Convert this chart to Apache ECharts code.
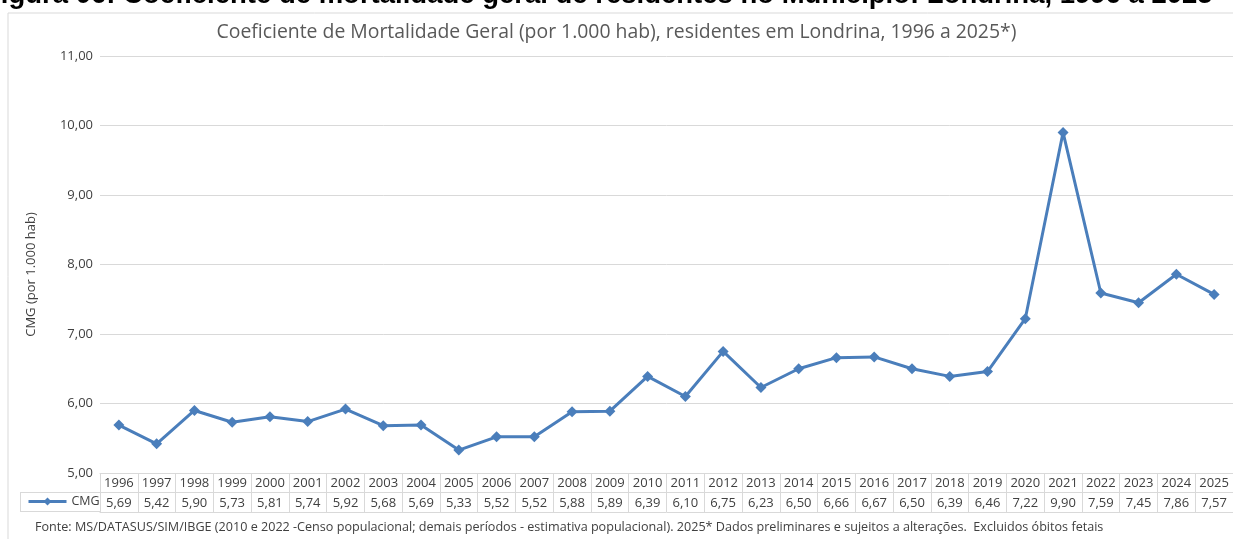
<!DOCTYPE html>
<html>
<head>
<meta charset="utf-8">
<script src="https://cdn.jsdelivr.net/npm/echarts@6/dist/echarts.min.js"></script>
<style>html,body{margin:0;padding:0;background:#fff;}#c{width:1233px;height:539px;}</style>
</head>
<body>
<div id="c"></div>
<script>
const categories = ['1996','1997','1998','1999','2000','2001','2002','2003','2004','2005','2006','2007','2008','2009','2010','2011','2012','2013','2014','2015','2016','2017','2018','2019','2020','2021','2022','2023','2024','2025'];
const cmgValues = [5.69,5.42,5.90,5.73,5.81,5.74,5.92,5.68,5.69,5.33,5.52,5.52,5.88,5.89,6.39,6.10,6.75,6.23,6.50,6.66,6.67,6.50,6.39,6.46,7.22,9.90,7.59,7.45,7.86,7.57];
const yTicks = {min: 5, max: 11, interval: 1};
const figTitle = 'Figura 06: Coeficiente de mortalidade geral de residentes no Município: Londrina, 1996 a 2025*';
const chartTitle = 'Coeficiente de Mortalidade Geral (por 1.000 hab), residentes em Londrina, 1996 a 2025*)';
const yName = 'CMG (por 1.000 hab)';
const footer = 'Fonte: MS/DATASUS/SIM/IBGE (2010 e 2022 -Censo populacional; demais períodos - estimativa populacional). 2025* Dados preliminares e sujeitos a alterações.  Excluidos óbitos fetais';

const fmt = v => Number(v).toFixed(2).replace('.', ',');
const FONT = '"Open Sans", "Noto Sans", sans-serif';
const gridColor = '#d9d9d9';
const txt = '#404040';

const chart = echarts.init(document.getElementById('c'), null, {renderer: 'canvas'});
chart.setOption({
  animation: false,
  backgroundColor: '#fff',
  textStyle: {fontFamily: FONT},
  title: {
    text: chartTitle, left: 'center', top: 18,
    textStyle: {fontFamily: FONT, fontSize: 19.4, fontWeight: 'normal', color: '#595959'}
  },
  legend: {
    left: 27, top: 495, padding: 0, itemWidth: 38, itemHeight: 10, itemGap: 4,
    lineStyle: {width: 3},
    textStyle: {fontFamily: FONT, fontSize: 12.5, color: txt},
    data: ['CMG']
  },
  graphic: [
    {type: 'rect', shape: {x: 8, y: 13, width: 1240, height: 560}, style: {fill: 'none', stroke: '#d9d9d9', lineWidth: 1}, silent: true},
    {type: 'text', left: -16, top: -19, style: {text: figTitle, font: 'bold 27.5px "Liberation Sans", Arial, sans-serif', fill: '#000'}},
    {type: 'text', left: 35, top: 521, style: {text: footer, font: '12.6px ' + FONT, fill: txt}},
    {type: 'line', shape: {x1: 20, y1: 492.5, x2: 100, y2: 492.5}, style: {stroke: gridColor, lineWidth: 1}},
    {type: 'line', shape: {x1: 20, y1: 511.5, x2: 100, y2: 511.5}, style: {stroke: gridColor, lineWidth: 1}},
    {type: 'line', shape: {x1: 20.5, y1: 492.5, x2: 20.5, y2: 511.5}, style: {stroke: gridColor, lineWidth: 1}}
  ],
  grid: {left: 100, top: 56, width: 1140, height: 417},
  xAxis: [
    {
      type: 'category', data: categories, position: 'bottom', boundaryGap: true,
      axisLine: {show: true, lineStyle: {color: gridColor}},
      axisTick: {show: true, interval: 0, length: 39, lineStyle: {color: gridColor}},
      axisLabel: {interval: 0, margin: 4, fontSize: 13, color: txt, fontFamily: FONT}
    },
    {
      type: 'category', data: cmgValues.map(fmt), position: 'bottom', offset: 19.5, boundaryGap: true,
      axisLine: {show: true, lineStyle: {color: gridColor}},
      axisTick: {show: false},
      axisLabel: {interval: 0, margin: 4, fontSize: 13, color: txt, fontFamily: FONT}
    },
    {
      type: 'category', data: categories, position: 'bottom', offset: 39, boundaryGap: true,
      axisLine: {show: true, lineStyle: {color: gridColor}},
      axisTick: {show: false}, axisLabel: {show: false}
    }
  ],
  yAxis: {
    type: 'value', min: yTicks.min, max: yTicks.max, interval: yTicks.interval,
    name: yName, nameLocation: 'middle', nameGap: 62, nameRotate: 90,
    nameTextStyle: {fontFamily: FONT, fontSize: 13, color: txt, padding: [0,0,0,-20]},
    axisLine: {show: false}, axisTick: {show: false},
    axisLabel: {formatter: fmt, fontSize: 13, color: txt, margin: 7, fontFamily: FONT},
    splitLine: {lineStyle: {color: gridColor}}
  },
  series: [{
    name: 'CMG', type: 'line', data: cmgValues, xAxisIndex: 0,
    symbol: 'diamond', symbolSize: 11,
    lineStyle: {color: '#4a7ebb', width: 3},
    itemStyle: {color: '#4a7ebb'}
  }]
});
</script>
</body>
</html>
